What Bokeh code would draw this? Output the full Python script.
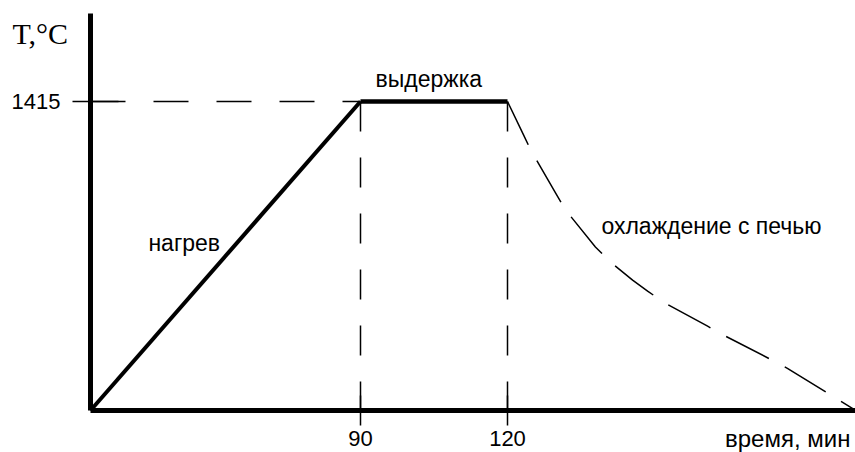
from bokeh.plotting import figure
from bokeh.models import FixedTicker, Label, Range1d
from bokeh.embed import file_html
from bokeh.resources import INLINE

# --- data (schematic: time axis not to scale) ---
tick_pos = [90, 139]          # schematic positions of stage boundaries
tick_labels = ["90", "120"]   # time, min
t_hold = 1415                 # holding temperature, °C

heat_x = [0, 90]
heat_T = [0, 1415]

hold_x = [90, 139]
hold_T = [1415, 1415]

cool_x = [139, 144.3, 146.7, 155, 158.3, 168.3, 173.3, 180.7, 185.7, 191, 205.7, 211, 227.3, 232.3, 254.5]
cool_T = [1415, 1263, 1194, 997, 919, 749, 680, 597, 547, 496, 386, 345, 230, 193, 5]

FONT = "Liberation Sans"

p = figure(width=855, height=452, output_backend="svg", toolbar_location=None,
           x_range=Range1d(-30, 255), y_range=Range1d(-192.3, 1877.5),
           min_border=0, min_border_left=0, min_border_right=0,
           min_border_top=0, min_border_bottom=0)
p.background_fill_color = "white"
p.border_fill_color = "white"
p.outline_line_color = None
p.xgrid.visible = False
p.ygrid.visible = False

for ax in (p.xaxis[0], p.yaxis[0]):
    ax.fixed_location = 0
    ax.axis_line_width = 5
    ax.axis_line_color = "black"
    ax.major_tick_line_color = "black"
    ax.major_tick_line_width = 1.5
    ax.minor_tick_line_color = None
    ax.major_label_text_font = FONT
    ax.major_label_text_font_size = "22px"
    ax.major_label_text_color = "black"

p.xaxis.bounds = (0, 255)
p.yaxis.bounds = (0, 1818)

p.xaxis.ticker = FixedTicker(ticks=tick_pos)
p.xaxis.major_label_overrides = {pos: lab for pos, lab in zip(tick_pos, tick_labels)}
p.xaxis.major_tick_in = 15
p.xaxis.major_tick_out = 15
p.xaxis.major_label_standoff = 5

p.yaxis.ticker = FixedTicker(ticks=[t_hold])
p.yaxis.major_label_overrides = {t_hold: str(t_hold)}
p.yaxis.major_tick_in = 28
p.yaxis.major_tick_out = 18
p.yaxis.major_label_standoff = 12
p.yaxis.major_label_orientation = "horizontal"

# guide lines
p.line([0, heat_x[1]], [t_hold, t_hold], line_color="black", line_width=1.5, line_dash="35 28")
for xp in tick_pos:
    p.line([xp, xp], [t_hold, 0], line_color="black", line_width=1.5, line_dash="30 26")

# process curves
p.line(heat_x, heat_T, line_color="black", line_width=4)
p.line(hold_x, hold_T, line_color="black", line_width=4.5)
p.line(cool_x, cool_T, line_color="black", line_width=1.5, line_dash="48 18")

def lab(x, y, text, align="left", font=FONT, size="23px"):
    p.add_layout(Label(x=x, y=y, text=text, text_align=align, text_baseline="middle",
                       text_font=font, text_font_size=size, text_color="black"))

lab(95, 1520, "выдержка")
lab(19.3, 765, "нагрев")
lab(170.3, 843, "охлаждение с печью")
lab(253.3, -128, "время, мин", align="right", size="24px")
lab(-26, 1726, "T,°C", font="Liberation Serif", size="30px")

open("out.html", "w").write(file_html(p, INLINE))
